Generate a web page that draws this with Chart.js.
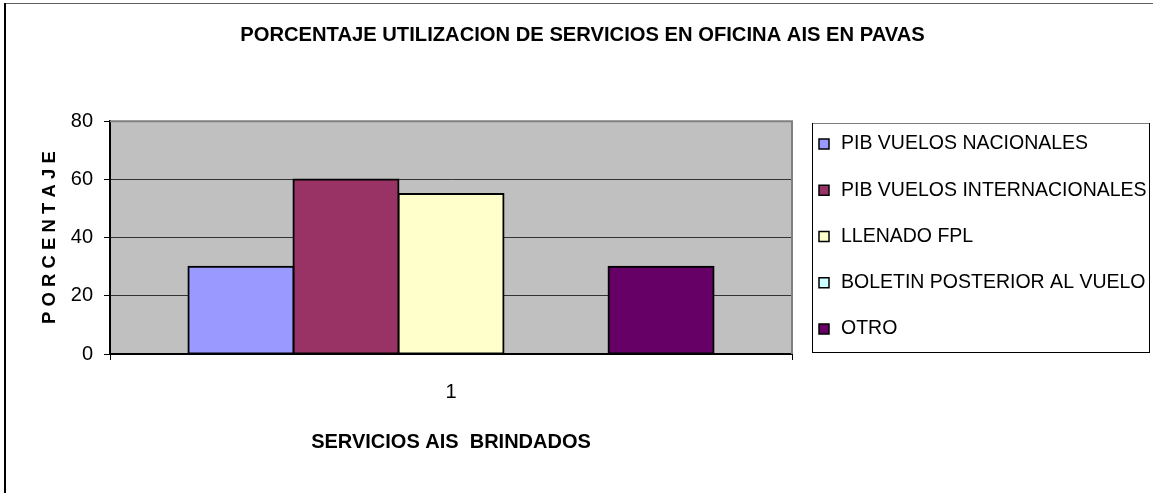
<!DOCTYPE html>
<html>
<head>
<meta charset="utf-8">
<script src="https://cdn.jsdelivr.net/npm/chart.js@4"></script>
<style>
  html, body { margin: 0; padding: 0; background: #fff; }
  canvas { display: block; }
</style>
</head>
<body>
<canvas id="chart" width="1153" height="493"></canvas>
<script>
// data
const categories = ['1'];
const seriesNames = ['PIB VUELOS NACIONALES', 'PIB VUELOS INTERNACIONALES', 'LLENADO FPL', 'BOLETIN POSTERIOR AL VUELO', 'OTRO'];
const seriesValues = [30, 60, 55, 0, 30];
const yTicks = [0, 20, 40, 60, 80];

const seriesColors = ['#9999FF', '#993366', '#FFFFCC', '#CCFFFF', '#660066'];
const FONT = "'Liberation Sans', Arial, sans-serif";

// plot background, outer frame, plot border and the boxed legend (Excel look)
const excelLook = {
    id: 'excelLook',
    beforeDraw(chart) {
        const ctx = chart.ctx, a = chart.chartArea;
        ctx.save();
        ctx.fillStyle = '#fff';
        ctx.fillRect(0, 0, chart.width, chart.height);
        ctx.fillStyle = '#C0C0C0';
        ctx.fillRect(a.left, a.top, a.right - a.left, a.bottom - a.top);
        ctx.restore();
    },
    afterDraw(chart) {
        const ctx = chart.ctx, a = chart.chartArea;
        ctx.save();
        // outer frame
        ctx.fillStyle = '#606060';
        ctx.fillRect(4, 3, chart.width - 4, 1);
        ctx.fillStyle = '#000';
        ctx.fillRect(4, 3, 2, chart.height - 3);
        // plot top / right edges
        ctx.strokeStyle = '#808080';
        ctx.lineWidth = 2;
        ctx.beginPath();
        ctx.moveTo(a.left, a.top);
        ctx.lineTo(a.right, a.top);
        ctx.lineTo(a.right, a.bottom);
        ctx.stroke();

        // legend box
        const lx = 812, ly = 123, lw = 337, lh = 229;
        ctx.lineWidth = 1;
        ctx.strokeStyle = '#000';
        ctx.strokeRect(lx + 0.5, ly + 0.5, lw, lh);
        ctx.strokeStyle = '#808080';
        ctx.beginPath();
        ctx.moveTo(lx + 1, ly + 0.5);
        ctx.lineTo(lx + lw, ly + 0.5);
        ctx.stroke();

        ctx.font = '19.5px ' + FONT;
        ctx.textBaseline = 'middle';
        ctx.textAlign = 'left';
        chart.data.datasets.forEach((ds, i) => {
            const y = 144 + i * 46.25;
            ctx.fillStyle = ds.backgroundColor;
            ctx.fillRect(819, y - 5, 10, 10);
            ctx.strokeStyle = '#000';
            ctx.lineWidth = 1.5;
            ctx.strokeRect(819, y - 5, 10, 10);
            ctx.fillStyle = '#000';
            ctx.fillText(ds.label, 841, y);
        });
        ctx.restore();
    }
};

const datasets = seriesNames.map((name, i) => ({
    label: name,
    data: [seriesValues[i]],
    backgroundColor: seriesColors[i],
    borderColor: '#000',
    borderWidth: 2,
    borderSkipped: false,
    inflateAmount: 1,
    barPercentage: 1,
    categoryPercentage: 0.77
}));

new Chart(document.getElementById('chart'), {
    type: 'bar',
    data: { labels: categories, datasets: datasets },
    options: {
        responsive: false,
        animation: false,
        layout: { padding: { left: 12, right: 0, top: 0, bottom: 0 } },
        plugins: {
            legend: { display: false },
            tooltip: { enabled: false },
            title: {
                display: true,
                text: 'PORCENTAJE UTILIZACION DE SERVICIOS EN OFICINA AIS EN PAVAS',
                color: '#000',
                font: { family: FONT, size: 20.2, weight: 'bold' },
                padding: { top: 23, bottom: 74 }
            }
        },
        scales: {
            x: {
                grid: { drawOnChartArea: false, drawTicks: true, tickLength: 6, tickColor: '#000', offset: true },
                border: { color: '#000', width: 2 },
                ticks: { color: '#000', font: { family: FONT, size: 20 }, padding: 20 },
                title: {
                    display: true,
                    text: 'SERVICIOS AIS  BRINDADOS',
                    color: '#000',
                    font: { family: FONT, size: 20, weight: 'bold' },
                    padding: 39
                },
                afterFit(s) { s.height = 139; }
            },
            y: {
                min: yTicks[0],
                max: yTicks[yTicks.length - 1],
                ticks: {
                    stepSize: yTicks[1] - yTicks[0],
                    color: '#000',
                    font: { family: FONT, size: 20 },
                    padding: 11
                },
                grid: { color: '#333', lineWidth: 1, tickLength: 6, tickColor: '#000' },
                border: { color: '#000', width: 2 },
                title: {
                    display: true,
                    text: 'P O R C E N T A J E',
                    color: '#000',
                    font: { family: FONT, size: 18.5, weight: 'bold' },
                    padding: 27
                },
                afterFit(s) { s.width = 98; }
            },
            // empty box on the right, leaves room for the legend
            side: {
                type: 'linear',
                position: 'right',
                grid: { display: false },
                border: { display: false },
                ticks: { display: false },
                afterFit(s) { s.width = 361; }
            }
        }
    },
    plugins: [excelLook]
});
</script>
</body>
</html>
